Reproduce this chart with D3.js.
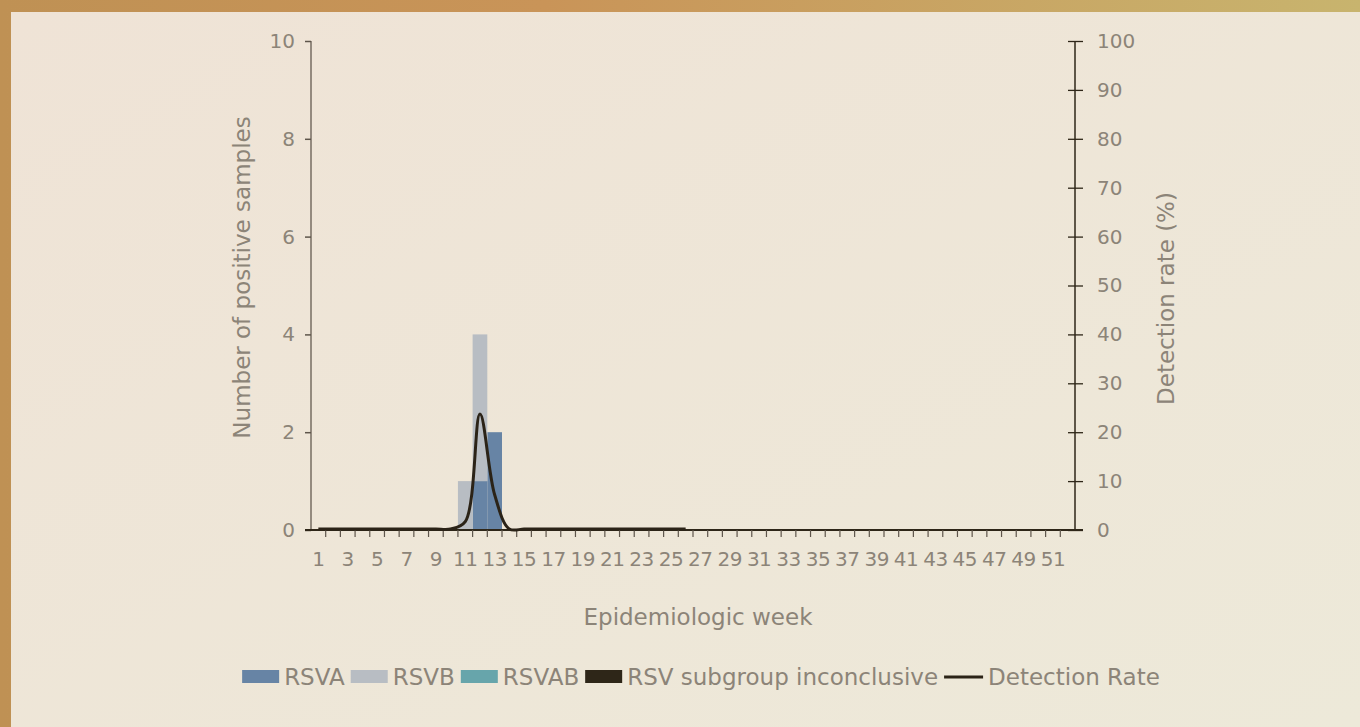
<!DOCTYPE html>
<html>
<head>
<meta charset="utf-8">
<script src="https://cdn.jsdelivr.net/npm/d3@7"></script>
<style>
  body { margin: 0; background: #c4955a; }
  #chart svg { display: block; }
  text { font-family: "DejaVu Sans", "Open Sans", sans-serif; fill: #8c8478; }
</style>
</head>
<body>
<div id="chart"></div>
<script>
// weeks 1..52
const weeks = d3.range(1, 53);
const tickWeeks = weeks.filter(w => w % 2 === 1);

// positive samples per week
const rsvA =  [0,0,0,0,0,0,0,0,0,0, 0,1,2,0,0,0,0,0,0,0, 0,0,0,0,0,0,0,0,0,0, 0,0,0,0,0,0,0,0,0,0, 0,0,0,0,0,0,0,0,0,0, 0,0];
const rsvB =  [0,0,0,0,0,0,0,0,0,0, 1,3,0,0,0,0,0,0,0,0, 0,0,0,0,0,0,0,0,0,0, 0,0,0,0,0,0,0,0,0,0, 0,0,0,0,0,0,0,0,0,0, 0,0];
const rsvAB = weeks.map(() => 0);
const rsvInc = weeks.map(() => 0);

// detection rate (%) - reported for weeks 1..26 only
const detectionRate = [0,0,0,0,0,0,0,0,0,0, 1.5,23.5,7,0,0,0,0,0,0,0, 0,0,0,0,0,0];

const leftTicks = [0, 2, 4, 6, 8, 10];
const rightTicks = [0, 10, 20, 30, 40, 50, 60, 70, 80, 90, 100];

const seriesNames = ["RSVA", "RSVB", "RSVAB", "RSV subgroup inconclusive"];
const seriesColors = ["#6784a5", "#b8bdc3", "#67a5ab", "#2e2618"];
const lineName = "Detection Rate";

const width = 1360, height = 727;
const margin = { top: 41, right: 285, bottom: 197, left: 311 };

const svg = d3.select("#chart").append("svg")
    .attr("width", width)
    .attr("height", height);

// frame + panel background
const defs = svg.append("defs");
const frameGrad = defs.append("linearGradient").attr("id", "frame");
frameGrad.append("stop").attr("offset", "0%").attr("stop-color", "#bf9154");
frameGrad.append("stop").attr("offset", "40%").attr("stop-color", "#c99458");
frameGrad.append("stop").attr("offset", "100%").attr("stop-color", "#c8b46e");
const panelGrad = defs.append("linearGradient").attr("id", "panel")
    .attr("x1", "0%").attr("y1", "0%").attr("x2", "100%").attr("y2", "100%");
panelGrad.append("stop").attr("offset", "0%").attr("stop-color", "#efe3d6");
panelGrad.append("stop").attr("offset", "100%").attr("stop-color", "#ede9d9");

svg.append("rect").attr("width", width).attr("height", height).attr("fill", "url(#frame)");
svg.append("rect").attr("x", 11).attr("y", 12)
    .attr("width", width - 11).attr("height", height - 12)
    .attr("fill", "url(#panel)");

const x = d3.scaleBand()
    .domain(weeks)
    .range([margin.left, width - margin.right])
    .padding(0);

const y = d3.scaleLinear()
    .domain([0, 10])
    .range([height - margin.bottom, margin.top]);

const yR = d3.scaleLinear()
    .domain([0, 100])
    .range([height - margin.bottom, margin.top]);

const plotBottom = height - margin.bottom;

// stacked bars
const table = weeks.map((w, i) => ({
  week: w,
  RSVA: rsvA[i],
  RSVB: rsvB[i],
  RSVAB: rsvAB[i],
  "RSV subgroup inconclusive": rsvInc[i]
}));
const stacked = d3.stack().keys(seriesNames)(table);

svg.append("g")
  .selectAll("g")
  .data(stacked)
  .join("g")
    .attr("fill", (d, i) => seriesColors[i])
  .selectAll("rect")
  .data(d => d.filter(s => s[1] > s[0]))
  .join("rect")
    .attr("x", d => x(d.data.week))
    .attr("width", x.bandwidth())
    .attr("y", d => y(d[1]))
    .attr("height", d => y(d[0]) - y(d[1]));

// left axis
const leftAxis = svg.append("g")
    .attr("transform", `translate(${margin.left},0)`)
    .call(d3.axisLeft(y).tickValues(leftTicks).tickSize(6).tickPadding(10));
leftAxis.select(".domain").attr("stroke", "#766d62").attr("stroke-width", 1.5).attr("d", `M0,${y(10)}V${y(0)}`);
leftAxis.selectAll(".tick line").attr("stroke", "#5e554b").attr("stroke-width", 1.5);
leftAxis.selectAll(".tick text").style("font-size", "20px").attr("fill", "#8c8478");

// right axis (ticks crossing both sides)
const rightAxis = svg.append("g")
    .attr("transform", `translate(${width - margin.right},0)`)
    .call(d3.axisRight(yR).tickValues(rightTicks).tickSize(8).tickPadding(14));
rightAxis.select(".domain").attr("stroke", "#2e2618").attr("stroke-width", 1.5).attr("d", `M0,${yR(100)}V${yR(0)}`);
rightAxis.selectAll(".tick line").attr("x1", -7).attr("stroke", "#2e2618").attr("stroke-width", 1.3);
rightAxis.selectAll(".tick text").style("font-size", "20px").attr("fill", "#8c8478");

// bottom axis: ticks at band edges, labels on odd weeks
const xAxisG = svg.append("g").attr("transform", `translate(0,${plotBottom})`);
xAxisG.append("line")
    .attr("x1", margin.left - 6).attr("x2", width - margin.right + 8)
    .attr("stroke", "#2e2618").attr("stroke-width", 2);
xAxisG.selectAll("line.tk")
  .data(weeks.slice(1))
  .join("line")
    .attr("class", "tk")
    .attr("x1", d => x(d)).attr("x2", d => x(d))
    .attr("y1", 0).attr("y2", 7)
    .attr("stroke", "#5e554b").attr("stroke-width", 1.2);
xAxisG.selectAll("text")
  .data(tickWeeks)
  .join("text")
    .attr("x", d => x(d) + x.bandwidth() / 2)
    .attr("y", 36)
    .attr("text-anchor", "middle")
    .style("font-size", "20px")
    .style("letter-spacing", "-0.5px")
    .text(d => d);

// detection rate line
const lineData = detectionRate.map((v, i) => ({ week: weeks[i], rate: v }));
svg.append("path")
    .datum(lineData)
    .attr("fill", "none")
    .attr("stroke", "#2b2317")
    .attr("stroke-width", 3)
    .attr("stroke-linejoin", "round")
    .attr("d", d3.line()
      .x(d => x(d.week) + x.bandwidth() / 2)
      .y(d => yR(d.rate) - 1)
      .curve(d3.curveCatmullRom.alpha(0.5)));

// axis titles
svg.append("text")
    .attr("transform", `translate(250,${(margin.top + plotBottom) / 2 - 8}) rotate(-90)`)
    .attr("text-anchor", "middle")
    .style("font-size", "23px")
    .text("Number of positive samples");

svg.append("text")
    .attr("transform", `translate(1174,${(margin.top + plotBottom) / 2 + 13}) rotate(-90)`)
    .attr("text-anchor", "middle")
    .style("font-size", "23px")
    .text("Detection rate (%)");

svg.append("text")
    .attr("x", 698)
    .attr("y", 625)
    .attr("text-anchor", "middle")
    .style("font-size", "23px")
    .text("Epidemiologic week");

// legend
const legend = svg.append("g");
let lx = 0;
const items = seriesNames.map((n, i) => ({ name: n, color: seriesColors[i], type: "rect" }))
  .concat([{ name: lineName, color: "#2b2317", type: "line" }]);
items.forEach(it => {
  const g = legend.append("g").attr("transform", `translate(${lx},0)`);
  if (it.type === "rect") {
    g.append("rect").attr("x", 0).attr("y", -7).attr("width", 37).attr("height", 13).attr("fill", it.color);
  } else {
    g.append("line").attr("x1", 0).attr("x2", 39).attr("y1", 0).attr("y2", 0)
      .attr("stroke", it.color).attr("stroke-width", 3);
  }
  const t = g.append("text")
    .attr("x", it.type === "rect" ? 42 : 44)
    .attr("y", 8)
    .style("font-size", "23px")
    .text(it.name);
  lx += (it.type === "rect" ? 42 : 44) + t.node().getComputedTextLength() + 6;
});
lx -= 6;
legend.attr("transform", `translate(${701 - lx / 2},677)`);
</script>
</body>
</html>
